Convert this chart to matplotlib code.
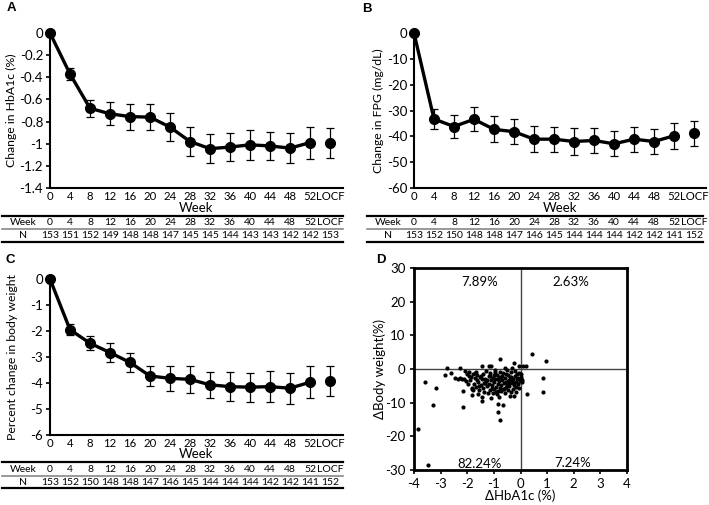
import matplotlib.pyplot as plt
from matplotlib.lines import Line2D
from matplotlib.ticker import FuncFormatter
from matplotlib.transforms import blended_transform_factory

plt.rcParams['font.family'] = ['Lato', 'DejaVu Sans']
plt.rcParams['axes.unicode_minus'] = False

W, H = 709, 505

weeks = ['0', '4', '8', '12', '16', '20', '24', '28', '32', '36', '40', '44', '48', '52', 'LOCF']

# A: change in HbA1c (%)
hba1c = [0, -0.37, -0.68, -0.73, -0.755, -0.76, -0.85, -0.98, -1.045, -1.03, -1.01, -1.02, -1.04, -0.99, -0.99]
hba1c_err = [0, 0.05, 0.078, 0.105, 0.117, 0.118, 0.123, 0.13, 0.13, 0.123, 0.135, 0.127, 0.138, 0.144, 0.135]
n_hba1c = [153, 151, 152, 149, 148, 148, 147, 145, 145, 144, 143, 143, 142, 142, 153]

# B: change in FPG (mg/dL)
fpg = [0, -33.3, -36.2, -33.4, -37.3, -38.2, -41.1, -41.1, -42.0, -41.6, -42.9, -41.1, -42.0, -39.8, -38.8]
fpg_err = [0, 4.0, 4.4, 4.7, 5.0, 4.8, 5.0, 4.9, 5.3, 5.0, 4.8, 4.8, 4.8, 5.0, 4.8]
n_fpg = [153, 152, 150, 148, 148, 147, 146, 145, 144, 144, 144, 142, 142, 141, 152]

# C: percent change in body weight
bw = [0, -1.95, -2.47, -2.83, -3.21, -3.73, -3.82, -3.86, -4.07, -4.14, -4.16, -4.14, -4.2, -3.97, -3.92]
bw_err = [0, 0.21, 0.27, 0.36, 0.35, 0.4, 0.47, 0.51, 0.49, 0.55, 0.56, 0.6, 0.6, 0.62, 0.58]
n_bw = [153, 152, 150, 148, 148, 147, 146, 145, 144, 144, 144, 142, 142, 141, 152]

# D: individual changes
d_hba1c = [-3.86, -3.46, -3.57, -3.16, -3.27, -2.75, -2.85, -2.28, -2.15, -2.15, -2.09, -0.76,
           -0.25, 0.44, 0.97, 0.85, 0.85, 0.25, -0.86, -0.66, -0.85, -0.76, -1.84, -1.84,
           -1.46, -1.46, -1.11, -1.2, -1.46, 0.09, 0.19, -0.06,
           -1.95, -1.88, -1.80, -1.75, -1.70, -1.66, -1.62, -1.58, -1.55, -1.52, -1.49, -1.45,
           -1.42, -1.40, -1.37, -1.35, -1.33, -1.30, -1.28, -1.25, -1.22, -1.20, -1.18, -1.15,
           -1.13, -1.10, -1.08, -1.05, -1.03, -1.00, -0.98, -0.96, -0.94, -0.92, -0.90, -0.88,
           -0.86, -0.84, -0.82, -0.80, -0.78, -0.76, -0.74, -0.72, -0.70, -0.68, -0.66, -0.64,
           -0.62, -0.60, -0.58, -0.56, -0.54, -0.52, -0.50, -0.48, -0.46, -0.44, -0.42, -0.40,
           -0.38, -0.36, -0.34, -0.32, -0.30, -0.28, -0.26, -0.24, -0.22, -0.20, -0.18, -0.16,
           -0.14, -0.12, -0.10, -0.08, -0.05, -0.03, 0.02, 0.03, 0.04, 0.05, 0.03,
           -2.45, -2.35, -2.28, -2.20, -2.12, -2.05, -1.98, -1.92, -1.85, -1.78, -1.72, -1.64,
           -1.60, -1.54, -1.47, -1.38, -1.26, -1.16, -1.06, -0.99, -0.93, -0.85, -0.73, -0.63,
           -0.55, -0.47, -0.37, -0.27, -0.17, -0.07, -2.60, -2.00, -1.82, -1.12, -0.82, -0.40,
           -0.95, -0.58, -0.33, -1.68]
d_bw = [-17.7, -28.4, -4.0, -5.7, -10.6, 0.3, -1.7, 0.3, -11.2, -6.5, -0.5, 3.0,
        1.7, 4.5, 2.3, -2.8, -6.7, -7.3, -10.4, -10.6, -12.9, -15.2, -7.7, -6.0,
        -9.5, -8.3, 1.0, 1.0, 0.8, 1.0, 1.0, 1.0,
        -2.1, -3.4, -1.5, -4.6, -2.8, -5.4, -1.9, -3.9, -6.1, -2.4, -4.8, -3.1,
        -1.6, -5.7, -6.8, -2.9, -4.2, -0.7, -3.6, -5.1, -7.2, -2.2, -4.5, -6.3,
        -1.3, -3.3, -5.6, -7.0, -2.6, -4.0, -6.0, -0.4, -3.0, -5.2, -7.5, -1.8,
        -4.4, -6.6, -2.5, -3.7, -5.5, -0.9, -4.9, -6.4, -2.0, -3.4, -5.9, -1.2,
        -4.1, -7.1, -2.7, -3.9, -5.3, -0.3, -4.6, -6.2, -1.7, -3.2, -5.0, -2.3,
        -4.3, -6.9, -1.0, -3.5, -5.8, -2.9, -8.0, -4.7, -0.6, -2.1, -3.8, -5.4,
        -1.4, -3.0, -4.5, -2.6, -1.1, -3.6, -1.5, -2.4, -3.2, -4.0, -2.9,
        -2.6, -3.1, -2.8, -3.0, -2.9, -3.6, -4.4, -0.8, -2.5, -6.2, -1.2, -3.3,
        -7.4, -5.0, -2.0, -4.1, -3.2, -2.0, -4.8, -1.9, -6.8, -3.1, -2.3, -6.0,
        -1.5, -3.7, -2.5, -4.1, -6.7, -5.5, -1.2, -1.4, -5.5, -8.6, -8.2, -8.1,
        -1.0, 0.2, 0.4, -0.9]
quad_x = [-1.52, 1.9, -1.52, 1.97]
quad_y = [25.8, 25.8, -28.2, -28.0]
quad_labels = ['7.89%', '2.63%', '82.24%', '7.24%']

fig = plt.figure(figsize=(W / 100, H / 100), dpi=100)


def px_axes(l, t, r, b):
    return fig.add_axes([l / W, 1 - b / H, (r - l) / W, (b - t) / H])


def fy(py):
    return 1 - py / H


def fmt(v, pos):
    return '%g' % v


def line_panel(box, vals, errs, ylim, yticks, ylabel, ylabel_px, ns, tab_x, head_px,
               tab_y, week_px):
    l, t, r, b = box
    ax = px_axes(l, t, r, b)
    x = list(range(len(weeks)))
    ax.errorbar(x, vals, yerr=errs, fmt='none', ecolor='black', elinewidth=0.9,
                capsize=3, capthick=0.9, clip_on=False, zorder=2)
    ax.plot(x[:-1], vals[:-1], color='black', lw=2.4, marker='o', ms=7,
            clip_on=False, zorder=3)
    ax.plot(x[-1:], vals[-1:], color='black', ls='none', marker='o', ms=7,
            clip_on=False, zorder=3)
    ax.set_xlim(0, (r - l) / 20)
    ax.set_ylim(*ylim)
    ax.set_yticks(yticks)
    ax.yaxis.set_major_formatter(FuncFormatter(fmt))
    ax.set_xticks(x)
    ax.set_xticklabels(weeks)
    for s in ['top', 'right']:
        ax.spines[s].set_visible(False)
    for s in ['left', 'bottom']:
        ax.spines[s].set_linewidth(1.5)
    ax.tick_params(axis='y', direction='out', length=3, width=1.2, labelsize=9.5, pad=2)
    ax.tick_params(axis='x', length=0, labelsize=8.2, pad=2.5)
    ax.set_xlabel('Week', fontsize=9.5, va='center')
    ax.xaxis.set_label_coords(0.5, (b - week_px) / (b - t))
    ax.set_ylabel(ylabel, fontsize=8.8, va='center')
    ax.yaxis.set_label_coords((ylabel_px - l) / (r - l), 0.5)

    # N table under the axis
    tr = blended_transform_factory(ax.transData, fig.transFigure)
    y_top, y_w, y_mid, y_n, y_bot = tab_y
    fig.text(head_px / W, fy(y_w), 'Week', ha='center', va='center', fontsize=7.5)
    fig.text(head_px / W, fy(y_n), 'N', ha='center', va='center', fontsize=7.5)
    for i in x:
        fig.text(i, fy(y_w), weeks[i], transform=tr, ha='center', va='center', fontsize=7.5)
        fig.text(i, fy(y_n), str(ns[i]), transform=tr, ha='center', va='center', fontsize=7.5)
    x0, x1 = tab_x
    for yy, lw, c in [(y_top, 1.6, 'black'), (y_mid, 1.2, '#888888'), (y_bot, 1.6, 'black')]:
        fig.add_artist(Line2D([x0 / W, x1 / W], [fy(yy), fy(yy)], lw=lw, color=c,
                              transform=fig.transFigure))
    return ax


line_panel((50, 33, 343, 188), hba1c, hba1c_err, (-1.4, 0),
           [0, -0.2, -0.4, -0.6, -0.8, -1.0, -1.2, -1.4], 'Change in HbA1c (%)', 11,
           n_hba1c, (2, 343), 23, (216.5, 222.5, 229.3, 235.7, 241.7), 207.5)

line_panel((414, 33, 706, 188), fpg, fpg_err, (-60, 0),
           [0, -10, -20, -30, -40, -50, -60], 'Change in FPG (mg/dL)', 378,
           n_fpg, (367, 703), 388, (216.5, 222.5, 229.3, 235.7, 241.7), 207.5)

line_panel((50, 279, 343, 435), bw, bw_err, (-6, 0),
           [0, -1, -2, -3, -4, -5, -6], 'Percent change in body weight', 12,
           n_bw, (2, 343), 23, (462.3, 469.5, 475.7, 482.3, 488.3), 454)

# D scatter
axd = px_axes(414, 268, 627, 470)
axd.axhline(0, color='#444444', lw=1, zorder=1)
axd.axvline(0, color='#444444', lw=1, zorder=1)
axd.scatter(d_hba1c, d_bw, s=4, color='black', zorder=3, clip_on=False)
axd.set_xlim(-4, 4)
axd.set_ylim(-30, 30)
axd.set_xticks(range(-4, 5))
axd.set_yticks(range(-30, 31, 10))
for s in axd.spines.values():
    s.set_linewidth(2)
axd.tick_params(direction='out', length=3, width=1.2, labelsize=9.5, pad=3)
axd.set_xlabel('ΔHbA1c (%)', fontsize=9.5, va='center')
axd.xaxis.set_label_coords(0.5, (470 - 496) / (470 - 268))
axd.set_ylabel('ΔBody weight(%)', fontsize=9.5, va='center')
axd.yaxis.set_label_coords((380 - 414) / (627 - 414), 0.5)
for qx, qy, ql in zip(quad_x, quad_y, quad_labels):
    axd.text(qx, qy, ql, ha='center', va='center', fontsize=9.5)

# panel letters
for lx, ly, lt in [(11, 8, 'A'), (367, 9, 'B'), (10, 260, 'C'), (381, 260, 'D')]:
    fig.text(lx / W, fy(ly), lt, ha='center', va='center', fontsize=9.5,
             fontweight='bold', family='Liberation Sans')

fig.savefig('out.png', dpi=100)
